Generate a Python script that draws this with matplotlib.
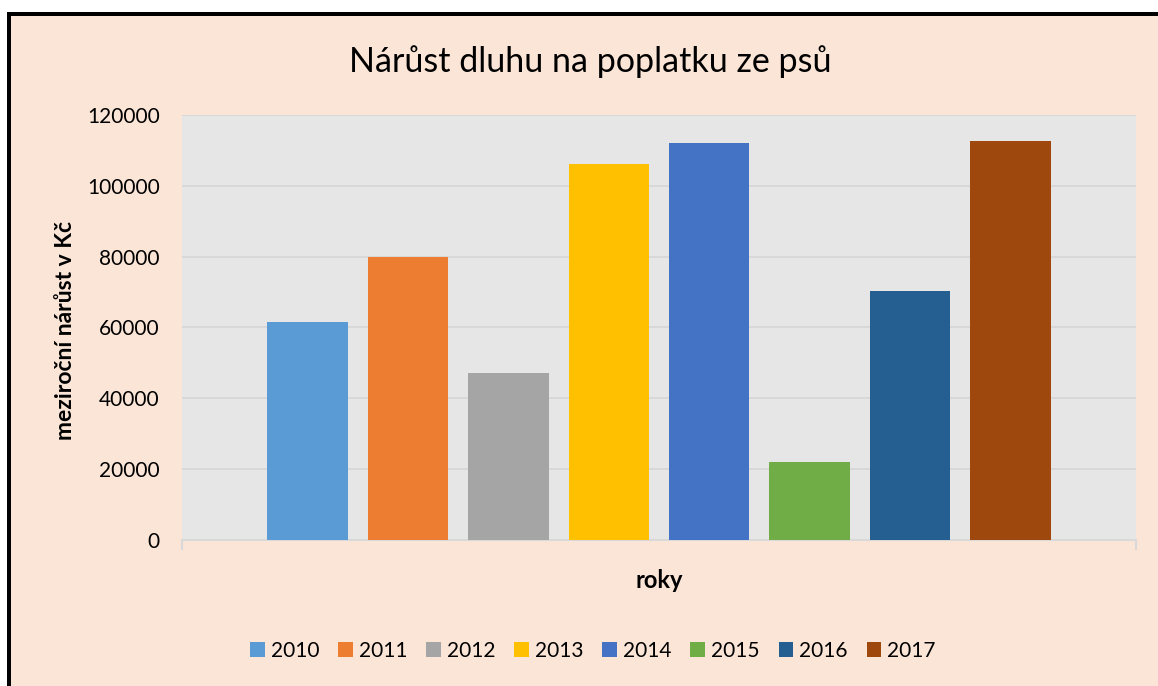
import matplotlib.pyplot as plt
from matplotlib.patches import Rectangle

# data
roky = ['2010', '2011', '2012', '2013', '2014', '2015', '2016', '2017']
narust = [61500, 80000, 47100, 106200, 112200, 21900, 70300, 112700]
barvy = ['#5B9BD5', '#ED7D31', '#A5A5A5', '#FFC000',
         '#4472C4', '#70AD47', '#255E91', '#9E480E']
y_ticks = [0, 20000, 40000, 60000, 80000, 100000, 120000]

plt.rcParams['font.family'] = ['Lato', 'DejaVu Sans']

W, H = 1158, 686
fig = plt.figure(figsize=(W / 100, H / 100), dpi=100, facecolor='white')

# peach chart area with black frame on top and left (cropped screenshot)
fig.patches.append(Rectangle((7 / W, 0), 1, 1 - 12 / H, transform=fig.transFigure,
                             facecolor='black', edgecolor='none', zorder=-10))
fig.patches.append(Rectangle((11 / W, 0), 1, 1 - 16 / H, transform=fig.transFigure,
                             facecolor='#FBE5D6', edgecolor='none', zorder=-9))

ax = fig.add_axes([182 / W, 1 - 539.5 / H, (1136 - 182) / W, (539.5 - 115.3) / H])
ax.set_zorder(1)
ax.set_facecolor('#E6E6E6')

for i, (rok, v, c) in enumerate(zip(roky, narust, barvy)):
    ax.bar(i, v, width=0.8, color=c, label=rok, zorder=3)

ax.set_xlim(-1.25, 8.25)
ax.set_ylim(0, 120000)
ax.set_yticks(y_ticks)
ax.set_yticklabels([str(t) for t in y_ticks], fontsize=15)
ax.grid(axis='y', color='#D6D6D6', linewidth=1.2, zorder=0)
ax.tick_params(axis='y', length=0, pad=16)

ax.set_xticks([-1.25, 8.25])
ax.set_xticklabels(['', ''])
ax.tick_params(axis='x', length=7, color='#D9D9D9', width=1.5)

for s in ['top', 'right', 'left']:
    ax.spines[s].set_visible(False)
ax.spines['bottom'].set_color('#D9D9D9')
ax.spines['bottom'].set_linewidth(1.5)

fig.text(590 / W, 1 - 62 / H, 'Nárůst dluhu na poplatku ze psů', fontsize=24.5,
         ha='center', va='center')
fig.text(659 / W, 1 - 580 / H, 'roky', fontsize=17, fontweight='bold',
         ha='center', va='center')
fig.text(65 / W, 1 - 330 / H, 'meziroční nárůst v Kč', fontsize=16.5, fontweight='bold',
         rotation=90, ha='center', va='center')

fig.legend(loc='center', bbox_to_anchor=(593 / W, 1 - 651 / H), ncol=8, frameon=False,
           fontsize=15, handlelength=0.7, handleheight=0.7, handletextpad=0.3,
           columnspacing=0.9)

fig.savefig('out.png', dpi=100, facecolor=fig.get_facecolor())
